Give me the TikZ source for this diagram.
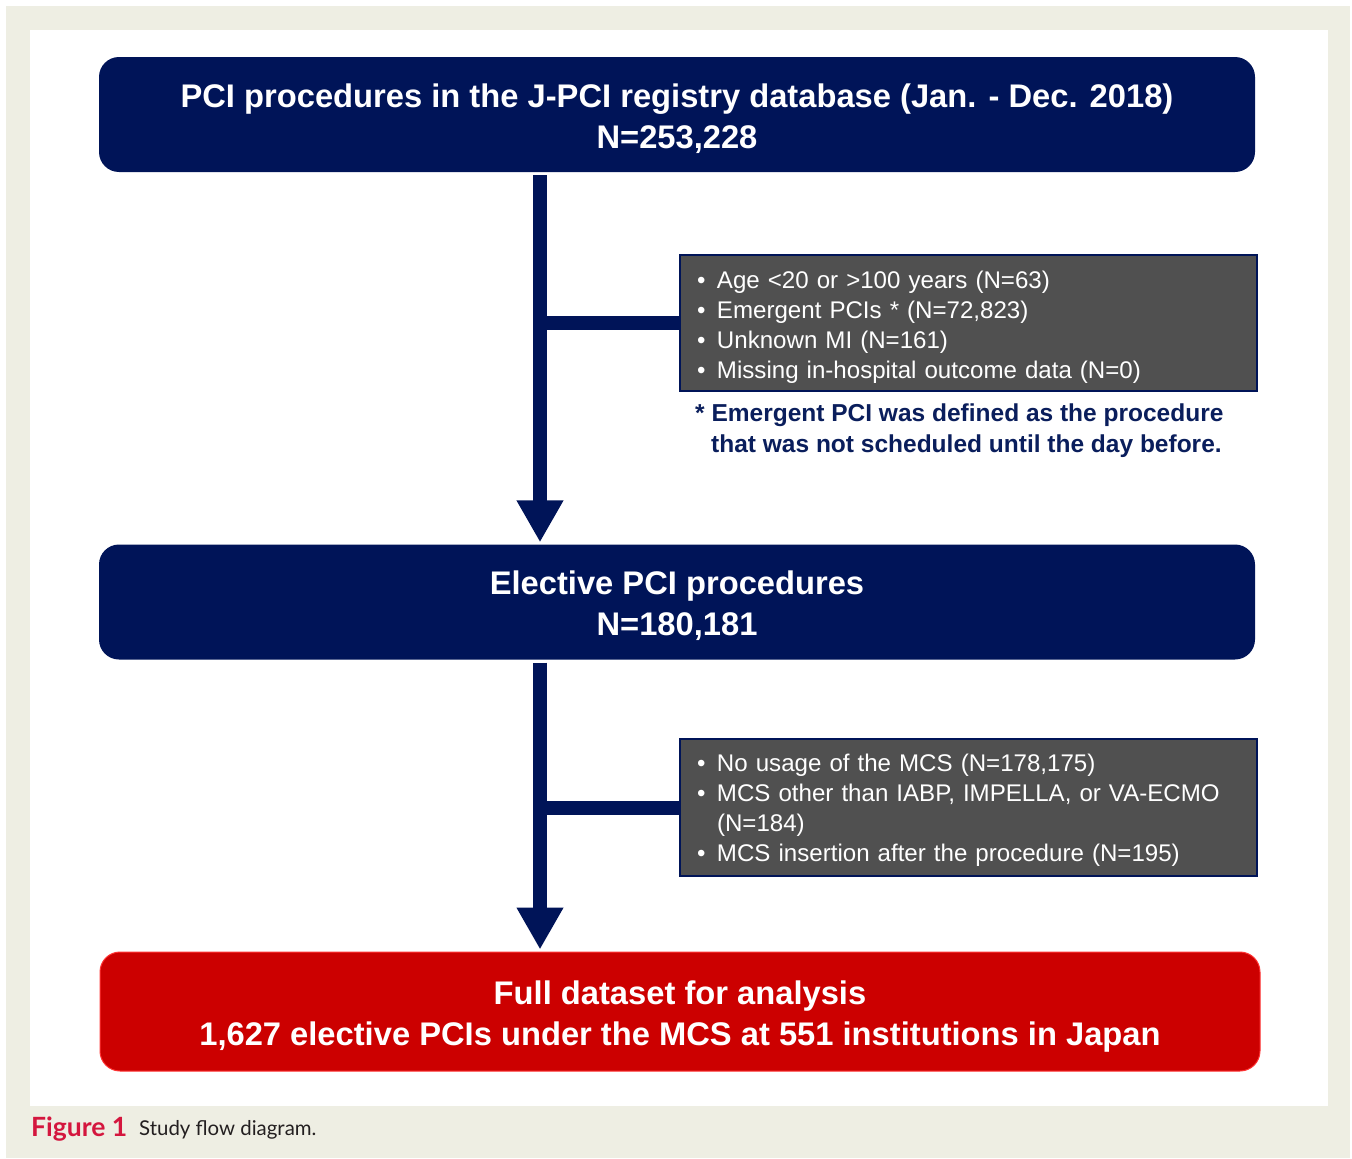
\documentclass[tikz,border=0pt]{standalone}
\usepackage{fontspec}
\setmainfont{Liberation Sans}
\newfontfamily\capfont{Lato}
\usetikzlibrary{arrows.meta}
\definecolor{navy}{RGB}{0,20,88}
\definecolor{fnnavy}{RGB}{10,30,92}
\definecolor{greyfill}{RGB}{80,80,80}
\definecolor{redbox}{RGB}{204,0,0}
\definecolor{beige}{RGB}{238,238,227}
\definecolor{capred}{RGB}{212,22,62}
\definecolor{captext}{RGB}{35,31,32}
\newcommand{\topstrut}[1]{\rule{0pt}{#1}}
\begin{document}
\begin{tikzpicture}[x=1pt,y=-1pt,
  mainbox/.style={fill=navy, rounded corners=20pt, minimum width=1156pt, minimum height=115pt,
    text=white, font=\fontsize{32.7}{41}\selectfont\bfseries, align=center, inner sep=0pt},
  redmain/.style={mainbox, fill=redbox, draw=red!80!white, line width=1pt, minimum width=1160pt, minimum height=119pt},
  exclbox/.style={fill=greyfill, draw=navy, line width=2pt, minimum height=136pt, text width=543pt,
    inner xsep=17pt, inner ysep=0pt, align=left, text=white, font=\fontsize{24.1}{30}\selectfont},
  flow/.style={draw=navy, line width=14pt, -{Triangle[width=44pt,length=42pt]}, shorten >=2pt},
  branch/.style={draw=navy, line width=14pt},
  fntext/.style={anchor=base west, inner sep=0pt, text=fnnavy, font=\fontsize{24.5}{31}\selectfont\bfseries},
]
\useasboundingbox (0,0) rectangle (1352,1159);
\fill[beige] (6,6) rectangle (1350,1158);
\fill[white] (30,30) rectangle (1328,1106);

\node[mainbox] (top) at (677,114.5) {\topstrut{32pt}PCI procedures in the J-PCI registry database (Jan. - Dec. 2018)\\N=253,228};
\node[mainbox] (elect) at (677,602) {\topstrut{32pt}Elective PCI procedures\\N=180,181};
\node[redmain] (full) at (680,1011.5) {\topstrut{33pt}Full dataset for analysis\\1,627 elective PCIs under the MCS at 551 institutions in Japan};

\node[exclbox] (ex1) at (968.5,323) {\topstrut{25.5pt}\makebox[20pt][l]{\textbullet}Age <20 or >100 years (N=63)\\
\makebox[20pt][l]{\textbullet}Emergent PCIs * (N=72,823)\\
\makebox[20pt][l]{\textbullet}Unknown MI (N=161)\\
\makebox[20pt][l]{\textbullet}Missing in-hospital outcome data (N=0)};

\node[fntext] (fn1) at (695,421.5) {* Emergent PCI was defined as the procedure};
\node[fntext] (fn2) at (711,452.5) {that was not scheduled until the day before.};

\node[exclbox, minimum height=137pt] (ex2) at (968.5,807.5) {\topstrut{22.5pt}\makebox[20pt][l]{\textbullet}No usage of the MCS (N=178,175)\\
\makebox[20pt][l]{\textbullet}MCS other than IABP, IMPELLA, or VA-ECMO\\
\hspace*{20pt}(N=184)\\
\makebox[20pt][l]{\textbullet}MCS insertion after the procedure (N=195)};

\coordinate (sx) at (540,0);
\draw[flow] ([yshift=-3pt]top.south -| sx) -- (elect.north -| sx);
\draw[flow] ([yshift=-3pt]elect.south -| sx) -- (full.north -| sx);
\draw[branch] (ex1.west -| sx) -- (ex1.west);
\draw[branch] (ex2.west -| sx) -- (ex2.west);

\node[anchor=base west, inner sep=0pt, text=capred, font=\capfont\fontsize{26.5}{30}\selectfont\bfseries] (figlab) at (31,1136) {Figure 1};
\node[anchor=base west, inner sep=0pt, text=captext, font=\capfont\fontsize{20.4}{24}\selectfont] (figcap) at (139,1135) {Study flow diagram.};
\end{tikzpicture}
\end{document}
